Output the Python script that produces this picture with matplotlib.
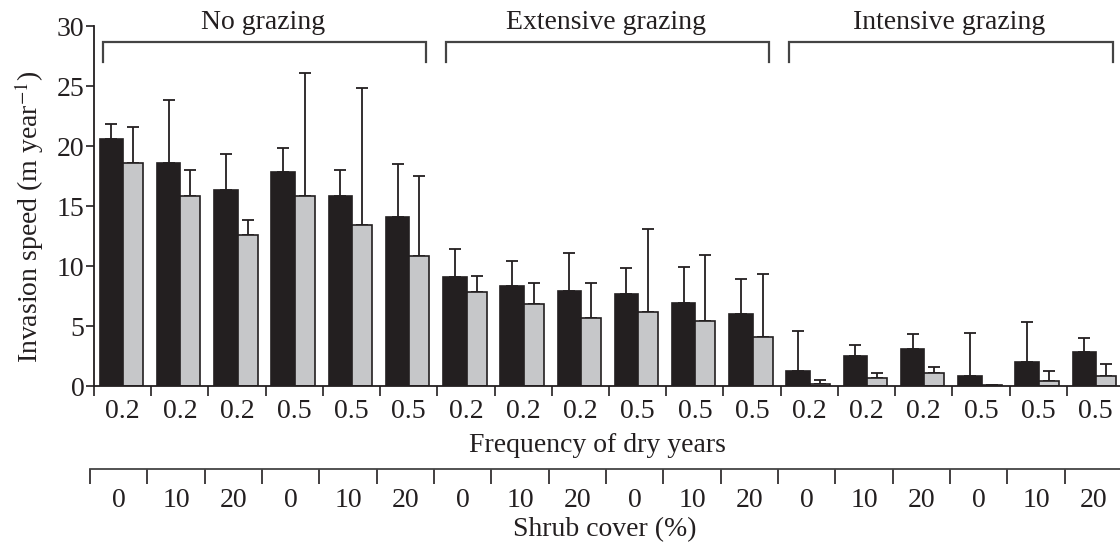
import matplotlib
matplotlib.use("Agg")
import matplotlib.pyplot as plt
import numpy as np

plt.rcParams['font.family'] = ['Liberation Serif', 'DejaVu Serif']
plt.rcParams['mathtext.fontset'] = 'stix'

# data
grazing = ['No grazing', 'Extensive grazing', 'Intensive grazing']
dry_freq = ['0.2', '0.2', '0.2', '0.5', '0.5', '0.5'] * 3
shrub = ['0', '10', '20'] * 6

black_mean = [20.6, 18.6, 16.3, 17.8, 15.8, 14.1,
              9.1, 8.3, 7.9, 7.7, 6.9, 6.0,
              1.25, 2.5, 3.1, 0.8, 2.0, 2.8]
black_err = [1.2, 5.2, 3.0, 2.0, 2.2, 4.4,
             2.3, 2.1, 3.2, 2.1, 3.0, 2.9,
             3.35, 0.9, 1.2, 3.65, 3.35, 1.2]
gray_mean = [18.6, 15.8, 12.6, 15.8, 13.4, 10.8,
             7.8, 6.8, 5.7, 6.2, 5.4, 4.1,
             0.2, 0.65, 1.1, 0.1, 0.45, 0.8]
gray_err = [3.0, 2.2, 1.2, 10.3, 11.4, 6.7,
            1.4, 1.8, 2.9, 6.9, 5.5, 5.2,
            0.27, 0.45, 0.45, 0.0, 0.8, 1.05]

ink = '#231f20'
grey = '#c6c7c9'
fs = 20

fig = plt.figure(figsize=(11.2, 5.43), dpi=100)
ax = fig.add_axes([94 / 1120, 157 / 543, 1030 / 1120, 360 / 543])

n = len(black_mean)
x = np.arange(n)
bw_k = 0.41
bw_g = 0.35
off = 0.1
xk = x + off + bw_k / 2
xg = x + off + bw_k + bw_g / 2

ax.bar(xk, black_mean, bw_k, color=ink, edgecolor=ink, linewidth=1.2, zorder=2)
ax.bar(xg, gray_mean, bw_g, color=grey, edgecolor=ink, linewidth=1.2, zorder=2)
ax.errorbar(xk, black_mean, yerr=[np.zeros(n), black_err], fmt='none',
            ecolor=ink, elinewidth=1.3, capsize=4.5, capthick=1.3, zorder=1)
ax.errorbar(xg, gray_mean, yerr=[np.zeros(n), gray_err], fmt='none',
            ecolor=ink, elinewidth=1.3, capsize=4.5, capthick=1.3, zorder=1)

ax.set_xlim(0, n)
ax.set_ylim(0, 30)
ax.set_yticks([0, 5, 10, 15, 20, 25, 30])
ax.set_xticks(np.arange(0, n))
ax.set_xticklabels([])
ax.set_xticks(x + 0.5, minor=True)
ax.set_xticklabels(dry_freq, minor=True)
ax.tick_params(axis='x', which='major', direction='out', length=7, width=1.2, color=ink)
ax.tick_params(axis='x', which='minor', length=0, pad=9, labelsize=fs, labelcolor=ink)
ax.tick_params(axis='y', direction='out', length=6, width=1.2, color=ink,
               labelsize=fs, labelcolor=ink, pad=1)
for s in ['top', 'right']:
    ax.spines[s].set_visible(False)
for s in ['left', 'bottom']:
    ax.spines[s].set_linewidth(1.3)
    ax.spines[s].set_color(ink)

ax.set_ylabel('Invasion speed (m year$^{-1}$)', fontsize=fs, color=ink)
ax.yaxis.set_label_coords(-0.047, 0.47)

# grazing brackets
for i, name in enumerate(grazing):
    a = i * 6 + 0.15
    b = i * 6 + 5.8
    ax.plot([a, a, b, b], [27.0, 28.7, 28.7, 27.0], color='#444444', lw=1.6,
            clip_on=False, solid_joinstyle='miter')
    ax.text(i * 6 + 2.95, 30.3, name, ha='center', va='center', fontsize=fs, color=ink)

fig.text(0.533, (543 - 445) / 543, 'Frequency of dry years', ha='center', va='center',
         fontsize=fs, color=ink)

# second axis for shrub cover
ax2 = fig.add_axes([90 / 1120, (543 - 469) / 543, 1032 / 1120, 0.0001])
ax2.set_xlim(0, n)
ax2.set_yticks([])
for s in ['top', 'right', 'left']:
    ax2.spines[s].set_visible(False)
ax2.spines['bottom'].set_linewidth(1.3)
ax2.spines['bottom'].set_color('#444444')
ax2.set_xticks(np.arange(0, n))
ax2.set_xticklabels([])
ax2.set_xticks(x + 0.5, minor=True)
ax2.set_xticklabels(shrub, minor=True)
ax2.tick_params(axis='x', which='major', direction='out', length=11, width=1.2, color=ink)
ax2.tick_params(axis='x', which='minor', length=0, pad=14, labelsize=fs, labelcolor=ink)

fig.text(0.54, (543 - 530) / 543, 'Shrub cover (%)', ha='center', va='center',
         fontsize=fs, color=ink)

fig.savefig('out.png', dpi=100)
